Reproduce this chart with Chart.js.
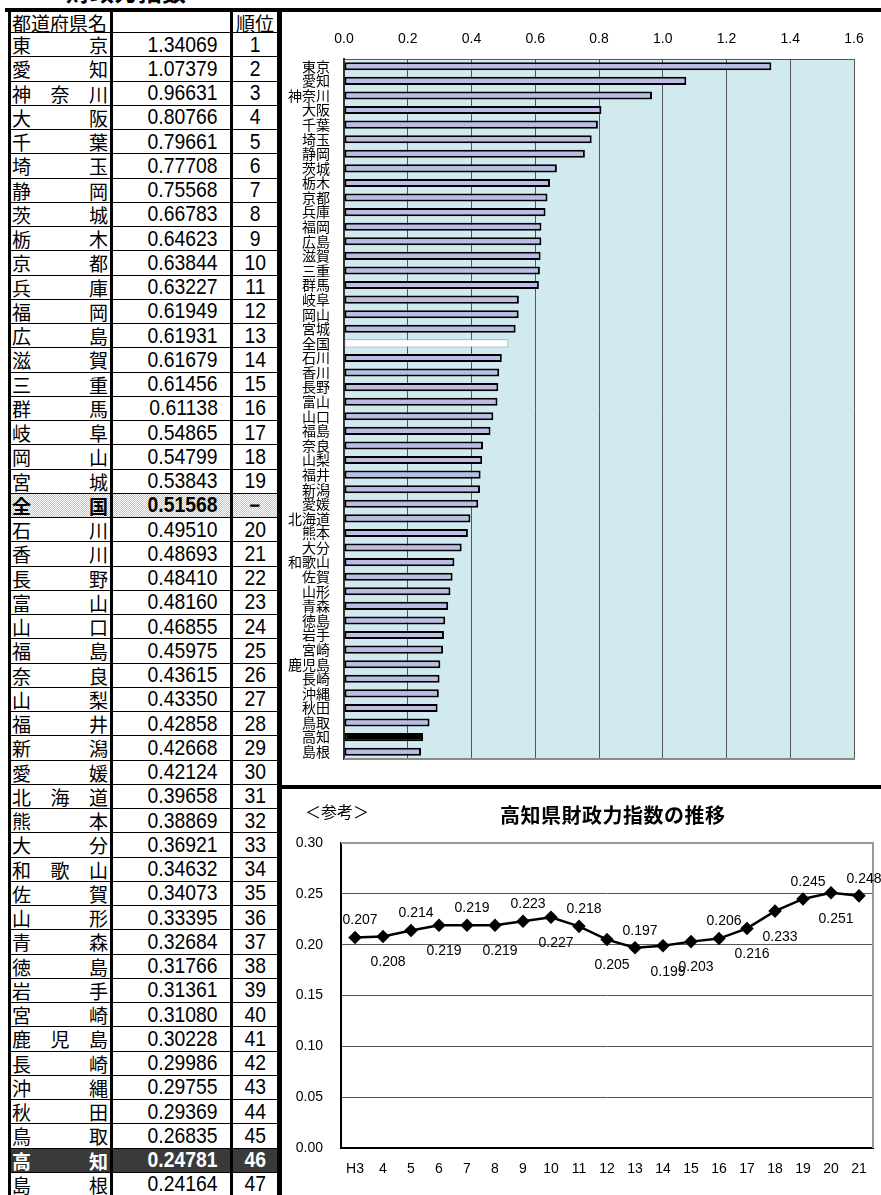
<!DOCTYPE html>
<html><head><meta charset="utf-8">
<script src="https://cdn.jsdelivr.net/npm/chart.js@4.4.0/dist/chart.umd.min.js"></script>
<style>
html,body{margin:0;padding:0;background:#fff;}
body{width:881px;height:1195px;overflow:hidden;position:relative;font-family:"Noto Sans CJK JP",sans-serif;color:#000;}
#title{position:absolute;left:66px;top:-23px;font-size:24px;font-weight:bold;line-height:28px;white-space:nowrap;}
.blk{position:absolute;background:#000;}
.row{position:absolute;left:8px;width:272px;border-top:1px solid #000;box-sizing:border-box;}
.row.nat{background:repeating-conic-gradient(#c4c4c4 0 25%,#fff 0 50%) 0 0/2px 2px;font-weight:bold;}
.row.kochi{background:#3a3a3a;color:#fff;font-weight:bold;}
.name{position:absolute;left:4px;width:96px;top:0;bottom:0;display:flex;justify-content:space-between;align-items:center;font-size:19px;line-height:1;}
.val{position:absolute;right:62px;top:0;bottom:0;display:flex;align-items:center;font-family:"Liberation Sans",Arial,sans-serif;font-size:22px;line-height:1;transform:scaleX(.88);transform-origin:right center;}
.rank{position:absolute;left:225px;width:44px;top:0;bottom:0;display:flex;align-items:center;justify-content:center;font-family:"Liberation Sans",Arial,sans-serif;font-size:22px;line-height:1;}
.rank span{display:inline-block;transform:scaleX(.88);}
.hdr{position:absolute;top:12px;height:20px;display:flex;align-items:center;font-size:19px;line-height:1;}
canvas{position:absolute;display:block;}
#ref{position:absolute;left:305px;top:800px;font-size:16px;line-height:22px;}
#ltitle{position:absolute;left:500px;top:803px;font-size:20px;font-weight:bold;line-height:24px;white-space:nowrap;letter-spacing:0.5px;}
</style>
</head><body>
<div id="title">財政力指数</div>
<div id="table"></div>
<canvas id="bar" width="599" height="773" style="left:282px;top:12px;width:599px;height:773px"></canvas>
<canvas id="line" width="599" height="406" style="left:282px;top:789px;width:599px;height:406px"></canvas>
<div id="ref">＜参考＞</div>
<div id="ltitle">高知県財政力指数の推移</div>
<div class="blk" style="left:5px;top:8px;width:876px;height:4px"></div>
<div class="blk" style="left:280px;top:785px;width:601px;height:4px"></div>
<div class="blk" style="left:280px;top:10px;width:2px;height:1185px"></div>
<script>
// ---- data ----
const prefs = ['東京','愛知','神奈川','大阪','千葉','埼玉','静岡','茨城','栃木','京都','兵庫','福岡','広島','滋賀','三重','群馬','岐阜','岡山','宮城','全国','石川','香川','長野','富山','山口','福島','奈良','山梨','福井','新潟','愛媛','北海道','熊本','大分','和歌山','佐賀','山形','青森','徳島','岩手','宮崎','鹿児島','長崎','沖縄','秋田','鳥取','高知','島根'];
const indexValues = [1.34069,1.07379,0.96631,0.80766,0.79661,0.77708,0.75568,0.66783,0.64623,0.63844,0.63227,0.61949,0.61931,0.61679,0.61456,0.61138,0.54865,0.54799,0.53843,0.51568,0.49510,0.48693,0.48410,0.48160,0.46855,0.45975,0.43615,0.43350,0.42858,0.42668,0.42124,0.39658,0.38869,0.36921,0.34632,0.34073,0.33395,0.32684,0.31766,0.31361,0.31080,0.30228,0.29986,0.29755,0.29369,0.26835,0.24781,0.24164];
const ranks = ['1','2','3','4','5','6','7','8','9','10','11','12','13','14','15','16','17','18','19','－','20','21','22','23','24','25','26','27','28','29','30','31','32','33','34','35','36','37','38','39','40','41','42','43','44','45','46','47'];
const barTicks = [0,0.2,0.4,0.6,0.8,1.0,1.2,1.4,1.6];
const years = ['H3','4','5','6','7','8','9','10','11','12','13','14','15','16','17','18','19','20','21'];
const kochiIndex = [0.207,0.208,0.214,0.219,0.219,0.219,0.223,0.227,0.218,0.205,0.197,0.199,0.203,0.206,0.216,0.233,0.245,0.251,0.248];
const labelSide = ['a','b','a','b','a','b','a','b','a','b','a','b','b','a','b','b','a','b','a'];

// ---- table ----
const HEAD_TOP=12, HEAD_H=20, ROW_H=24.25;
const table=document.getElementById('table');
function addHdr(text,left,width,center){const d=document.createElement('div');d.className='hdr';d.style.left=left+'px';d.style.width=width+'px';if(center)d.style.justifyContent='center';d.textContent=text;table.appendChild(d);}
addHdr('都道府県名',12,98,false);
addHdr('順位',233,44,true);
prefs.forEach((p,i)=>{
  const row=document.createElement('div');
  row.className='row'+(p==='全国'?' nat':'')+(p==='高知'?' kochi':'');
  row.style.top=(HEAD_TOP+HEAD_H+i*ROW_H)+'px';
  row.style.height=ROW_H+'px';
  const n=document.createElement('div');n.className='name';
  [...p].forEach(ch=>{const s=document.createElement('span');s.textContent=ch;n.appendChild(s);});
  const v=document.createElement('div');v.className='val';v.textContent=indexValues[i].toFixed(5);
  const r=document.createElement('div');r.className='rank';r.innerHTML='<span>'+ranks[i]+'</span>';
  row.appendChild(n);row.appendChild(v);row.appendChild(r);
  table.appendChild(row);
});
[[8,3],[110,3],[230,3],[277,3]].forEach(([x,w])=>{const d=document.createElement('div');d.className='blk';d.style.left=x+'px';d.style.top='10px';d.style.width=w+'px';d.style.height='1185px';table.appendChild(d);});

// ---- bar chart ----
const barFrame={id:'barFrame',
  beforeDraw(ch){const {ctx,chartArea:a}=ch;ctx.save();ctx.fillStyle='#d0eaf0';ctx.fillRect(a.left,a.top,a.right-a.left,a.bottom-a.top);ctx.restore();},
  afterDraw(ch){const {ctx,chartArea:a}=ch;ctx.save();ctx.strokeStyle='#8a8a8a';ctx.lineWidth=2;ctx.beginPath();ctx.moveTo(a.left,a.bottom);ctx.lineTo(a.right+1,a.bottom);ctx.stroke();ctx.restore();}
};
new Chart(document.getElementById('bar'),{
  type:'bar',
  data:{labels:prefs,datasets:[{data:indexValues,
    backgroundColor:prefs.map(p=>p==='高知'?'#000':p==='全国'?'#fff':'#bcbce6'),
    borderColor:prefs.map(p=>p==='全国'?'#999':'#000'),
    borderWidth:prefs.map(p=>p==='全国'?1:2),
    borderSkipped:false,barPercentage:0.55,categoryPercentage:1}]},
  options:{indexAxis:'y',responsive:false,animation:false,devicePixelRatio:1,
    layout:{padding:{left:0,right:27,top:0,bottom:26}},
    plugins:{legend:{display:false},tooltip:{enabled:false}},
    scales:{
      x:{position:'top',min:0,max:1.6,
        afterBuildTicks(s){s.ticks=barTicks.map(v=>({value:v}));},
        ticks:{callback:v=>Number(v).toFixed(1),color:'#000',font:{family:'"Liberation Sans",Arial',size:14},padding:11,maxRotation:0},
        grid:{color:'#555',lineWidth:1,drawTicks:false},
        border:{display:true,color:'#555',width:1},
        afterFit(s){s.height=47;}},
      y:{ticks:{color:'#000',font:{family:'"Noto Sans CJK JP"',size:14},padding:14,autoSkip:false},
        grid:{display:false,drawTicks:false},
        border:{display:true,color:'#333',width:2},
        afterFit(s){s.width=62;}}
    }},
  plugins:[barFrame]
});

// ---- line chart ----
const lineDeco={id:'lineDeco',
  afterDraw(ch){const {ctx,chartArea:a}=ch;ctx.save();ctx.strokeStyle='#999';ctx.lineWidth=2;ctx.beginPath();ctx.moveTo(a.left,a.top);ctx.lineTo(a.right,a.top);ctx.lineTo(a.right,a.bottom);ctx.stroke();
    const meta=ch.getDatasetMeta(0);ctx.fillStyle='#000';ctx.font='14px "Liberation Sans",Arial';ctx.textAlign='center';ctx.textBaseline='middle';
    meta.data.forEach((pt,i)=>{const dy=labelSide[i]==='a'?-17:26;ctx.fillText(kochiIndex[i].toFixed(3),pt.x+5,pt.y+dy);});
    ctx.restore();}
};
new Chart(document.getElementById('line'),{
  type:'line',
  data:{labels:years,datasets:[{data:kochiIndex,borderColor:'#000',borderWidth:2.5,pointStyle:'rectRot',pointRadius:5,pointBackgroundColor:'#000',pointBorderColor:'#000',tension:0,fill:false}]},
  options:{responsive:false,animation:false,devicePixelRatio:1,
    layout:{padding:{left:0,right:8,top:54,bottom:0}},
    plugins:{legend:{display:false},tooltip:{enabled:false}},
    scales:{
      x:{offset:true,grid:{display:false,drawTicks:false},border:{display:true,color:'#000',width:2},
        ticks:{color:'#000',font:{family:'"Liberation Sans",Arial',size:14},padding:13,maxRotation:0,autoSkip:false},
        afterFit(s){s.height=47;}},
      y:{min:0,max:0.3,ticks:{stepSize:0.05,callback:v=>Number(v).toFixed(2),color:'#000',font:{family:'"Liberation Sans",Arial',size:14},padding:18},
        grid:{color:'#555',lineWidth:1,drawTicks:false},border:{display:true,color:'#000',width:2},
        afterFit(s){s.width=59;}}
    }},
  plugins:[lineDeco]
});
</script>
</body></html>
